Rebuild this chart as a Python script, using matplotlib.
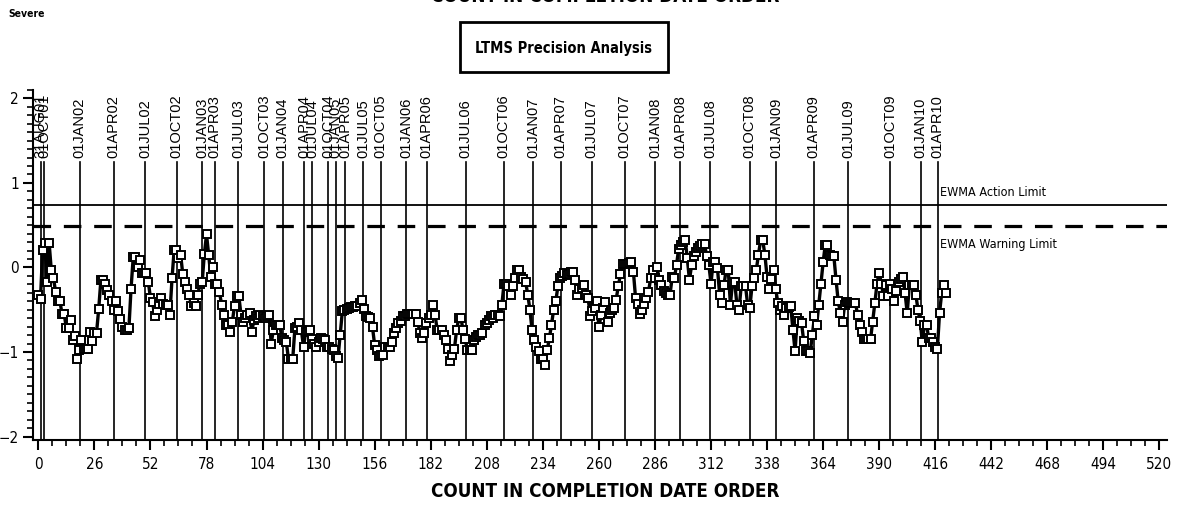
import numpy as np
import matplotlib.pyplot as plt
from matplotlib.patches import Rectangle
from matplotlib.ticker import MultipleLocator

# EWMA of severe precision, one value per test in completion order
ewma = [
    -0.32, -0.37, 0.21, 0.29, -0.17, 0.29, -0.03, -0.12, -0.29, -0.40,
    -0.40, -0.55, -0.55, -0.72, -0.72, -0.62, -0.86, -0.81, -1.08, -0.98,
    -0.86, -0.97, -0.97, -0.97, -0.76, -0.87, -0.77, -0.77, -0.49, -0.15,
    -0.15, -0.20, -0.27, -0.32, -0.40, -0.50, -0.40, -0.51, -0.61, -0.70,
    -0.74, -0.74, -0.72, -0.25, 0.12, 0.12, 0.00, 0.09, -0.07, -0.07,
    -0.07, -0.17, -0.36, -0.41, -0.58, -0.50, -0.43, -0.36, -0.43, -0.44,
    -0.44, -0.56, -0.13, 0.21, 0.21, 0.11, 0.15, -0.08, -0.17, -0.25,
    -0.32, -0.45, -0.42, -0.45, -0.32, -0.19, -0.17, 0.16, 0.39, 0.15,
    -0.11, 0.01, -0.19, -0.19, -0.29, -0.44, -0.56, -0.68, -0.68, -0.76,
    -0.64, -0.45, -0.34, -0.34, -0.56, -0.64, -0.60, -0.56, -0.54, -0.76,
    -0.62, -0.58, -0.60, -0.56, -0.58, -0.60, -0.58, -0.56, -0.90, -0.74,
    -0.68, -0.68, -0.68, -0.84, -0.86, -0.88, -1.08, -1.08, -1.08, -0.72,
    -0.70, -0.66, -0.74, -0.94, -0.76, -0.75, -0.74, -0.85, -0.90, -0.94,
    -0.88, -0.83, -0.85, -0.86, -0.94, -0.94, -0.96, -0.98, -1.05, -1.07,
    -0.80, -0.52, -0.50, -0.49, -0.48, -0.47, -0.47, -0.46, -0.46, -0.42,
    -0.38, -0.49, -0.58, -0.59, -0.60, -0.71, -0.92, -0.98, -1.05, -1.04,
    -1.03, -0.94, -0.94, -0.94, -0.88, -0.78, -0.72, -0.66, -0.63, -0.58,
    -0.57, -0.55, -0.55, -0.55, -0.55, -0.55, -0.64, -0.78, -0.84, -0.78,
    -0.66, -0.60, -0.56, -0.44, -0.56, -0.74, -0.74, -0.74, -0.80, -0.86,
    -0.96, -1.11, -1.04, -0.96, -0.74, -0.60, -0.60, -0.74, -0.85, -0.98,
    -0.98, -0.98, -0.86, -0.82, -0.80, -0.80, -0.78, -0.68, -0.66, -0.62,
    -0.58, -0.60, -0.56, -0.56, -0.58, -0.44, -0.19, -0.19, -0.22, -0.33,
    -0.22, -0.13, -0.03, -0.03, -0.11, -0.14, -0.17, -0.32, -0.50, -0.74,
    -0.86, -0.94, -0.99, -1.08, -1.08, -1.15, -0.98, -0.84, -0.68, -0.50,
    -0.40, -0.22, -0.13, -0.10, -0.07, -0.09, -0.08, -0.05, -0.05, -0.15,
    -0.32, -0.26, -0.24, -0.21, -0.32, -0.36, -0.58, -0.52, -0.48, -0.40,
    -0.71, -0.56, -0.48, -0.41, -0.64, -0.54, -0.50, -0.48, -0.38, -0.22,
    -0.08, 0.04, 0.04, 0.04, 0.05, 0.07, -0.05, -0.36, -0.43, -0.55,
    -0.50, -0.43, -0.36, -0.29, -0.13, -0.03, -0.13, 0.00, -0.15, -0.21,
    -0.28, -0.30, -0.32, -0.32, -0.11, -0.13, 0.03, 0.22, 0.26, 0.30,
    0.33, 0.11, -0.15, 0.03, 0.13, 0.18, 0.23, 0.25, 0.28, 0.28,
    0.13, 0.03, -0.19, 0.07, 0.07, -0.01, -0.32, -0.42, -0.21, -0.03,
    -0.03, -0.44, -0.17, -0.17, -0.44, -0.50, -0.22, -0.22, -0.22, -0.44,
    -0.48, -0.22, -0.13, -0.03, 0.15, 0.32, 0.32, 0.15, -0.11, -0.25,
    -0.14, -0.03, -0.25, -0.42, -0.50, -0.46, -0.56, -0.48, -0.47, -0.46,
    -0.74, -0.99, -0.60, -0.63, -0.66, -0.87, -0.99, -0.99, -1.01, -0.80,
    -0.58, -0.68, -0.44, -0.19, 0.06, 0.27, 0.27, 0.15, 0.14, 0.13,
    -0.15, -0.40, -0.54, -0.64, -0.44, -0.41, -0.42, -0.42, -0.42, -0.42,
    -0.56, -0.68, -0.76, -0.85, -0.85, -0.85, -0.85, -0.64, -0.42, -0.19,
    -0.06, -0.19, -0.34, -0.21, -0.34, -0.19, -0.26, -0.40, -0.28, -0.17,
    -0.14, -0.11, -0.30, -0.54, -0.21, -0.21, -0.21, -0.32, -0.50, -0.63,
    -0.88, -0.68, -0.68, -0.84, -0.84, -0.88, -0.94, -0.96, -0.54, -0.30,
    -0.21, -0.30,
]
count = np.arange(len(ewma))

# quarter boundaries in the count order
ref_counts = [1.1, 2.8, 19.2, 34.9, 49.5, 64.2, 76.1, 81.8, 92.8, 104.7,
              113.4, 123.4, 126.9, 134.4, 137.9, 142.2, 150.6, 158.8, 170.5, 180.1,
              198.2, 215.9, 229.6, 242.2, 256.6, 271.9, 286.2, 297.6, 311.6, 329.9,
              342.1, 359.7, 375.6, 395.1, 409.2, 417.1]
ref_labels = ["31AUG01", "01OCT01", "01JAN02", "01APR02", "01JUL02", "01OCT02",
              "01JAN03", "01APR03", "01JUL03", "01OCT03", "01JAN04", "01APR04",
              "01JUL04", "01OCT04", "01JAN05", "01APR05", "01JUL05", "01OCT05",
              "01JAN06", "01APR06", "01JUL06", "01OCT06", "01JAN07", "01APR07",
              "01JUL07", "01OCT07", "01JAN08", "01APR08", "01JUL08", "01OCT08",
              "01JAN09", "01APR09", "01JUL09", "01OCT09", "01JAN10", "01APR10"]

action_limit = 0.74
warning_limit = 0.49

# condensed face for axis text, plain sans for the date labels
cond = dict(family='DejaVu Sans', stretch='condensed')
plain = ['Liberation Sans', 'DejaVu Sans']

fig = plt.figure(figsize=(11.77, 5.08), dpi=100)
ax = fig.add_axes([0.028, 0.134, 0.9635, 0.689])

ax.set_xlim(-2.5, 523.5)
ax.set_ylim(-2.04, 2.1)

# date reference lines and their labels
for xc, lab in zip(ref_counts, ref_labels):
    ax.plot([xc, xc], [-2.04, 1.25], color='black', lw=1.2, zorder=1)
    ax.text(xc, 1.29, lab, rotation=90, ha='center', va='bottom',
            fontsize=10.5, family=plain)

ax.axhline(action_limit, color='black', lw=1.3, zorder=1)
ax.axhline(warning_limit, color='black', lw=2.3, ls=(0, (5.5, 4)), zorder=1)
ax.text(418, 0.885, "EWMA Action Limit", ha='left', va='center',
        fontsize=9, **cond)
ax.text(418, 0.27, "EWMA Warning Limit", ha='left', va='center',
        fontsize=9, **cond)

ax.plot(count, ewma, color='black', lw=2.4, marker='s', ms=5.5,
        mfc='white', mec='black', mew=1.4, zorder=3)

for side in ['top', 'right']:
    ax.spines[side].set_visible(False)
for side in ['left', 'bottom']:
    ax.spines[side].set_linewidth(1.5)

ax.xaxis.set_major_locator(MultipleLocator(26))
ax.xaxis.set_minor_locator(MultipleLocator(6.5))
ax.yaxis.set_major_locator(MultipleLocator(1))
ax.yaxis.set_minor_locator(MultipleLocator(0.1))
ax.tick_params(which='major', direction='out', length=7, width=1.5, labelsize=11)
ax.tick_params(which='minor', direction='out', length=4, width=1.2)
ax.tick_params(axis='x', pad=5)
ax.tick_params(axis='y', pad=3)
for lbl in ax.get_xticklabels() + ax.get_yticklabels():
    lbl.set_family('DejaVu Sans')
    lbl.set_stretch('condensed')

fig.text(0.007, 0.972, "Severe", fontsize=7.5, fontweight='bold', ha='left',
         va='center', **cond)
fig.text(0.514, 1.007, "COUNT IN COMPLETION DATE ORDER", fontsize=13.5,
         fontweight='heavy', ha='center', va='center', **cond)
fig.text(0.514, 0.0315, "COUNT IN COMPLETION DATE ORDER", fontsize=13.5,
         fontweight='heavy', ha='center', va='center', **cond)

fig.patches.append(Rectangle((0.3908, 0.8583), 0.1767, 0.0984, transform=fig.transFigure,
                             fill=False, lw=2.0, edgecolor='black'))
fig.text(0.479, 0.9055, "LTMS Precision Analysis", fontsize=10.5, fontweight='bold',
         ha='center', va='center', **cond)

fig.savefig("out.png", dpi=100)
